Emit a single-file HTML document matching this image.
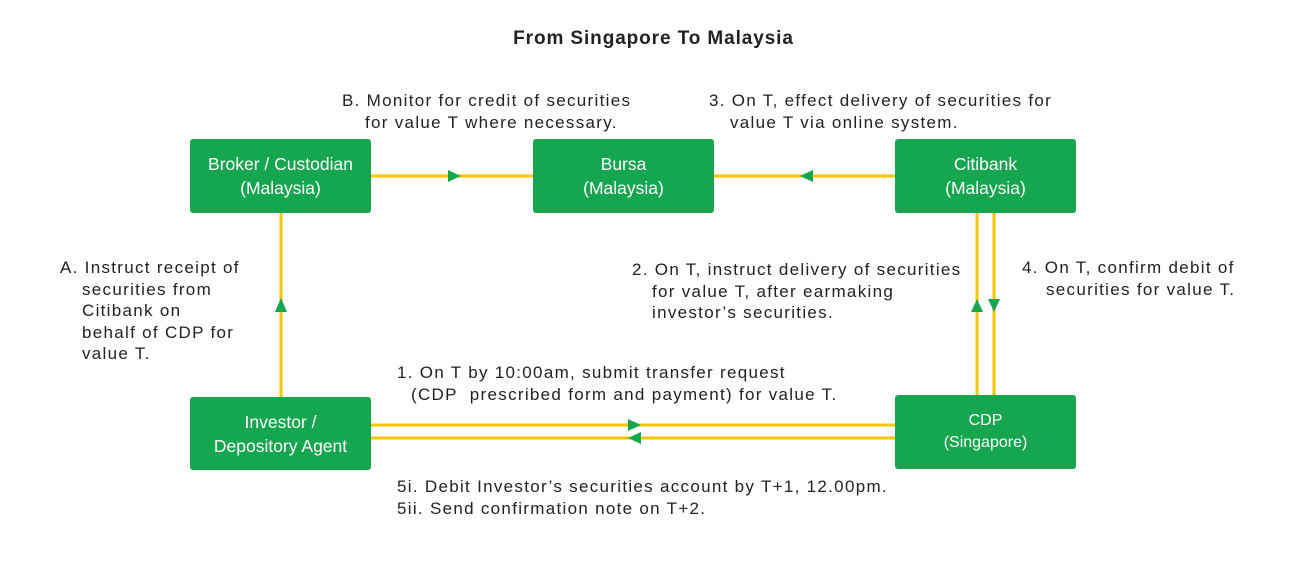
<!DOCTYPE html>
<html><head><style>
body{margin:0;width:1307px;height:573px;background:#fff;position:relative;font-family:"Liberation Sans",sans-serif;overflow:hidden}
.b{position:absolute;background:#16a650;color:#fff;border-radius:3px;width:181px;display:flex;align-items:center;justify-content:center;text-align:center;font-size:17.5px;line-height:24px}
.t{position:absolute;color:#222;font-size:17px;letter-spacing:1.3px;line-height:21.5px;white-space:nowrap}
.t span{display:block}
</style></head><body>
<svg width="1307" height="573" style="position:absolute;left:0;top:0">
<g stroke="#f7c600" stroke-width="3" fill="none">
<line x1="371" y1="176" x2="533" y2="176"/>
<line x1="714" y1="176" x2="895" y2="176"/>
<line x1="281" y1="213" x2="281" y2="397"/>
<line x1="977" y1="213" x2="977" y2="395"/>
<line x1="994" y1="213" x2="994" y2="395"/>
<line x1="371" y1="425" x2="895" y2="425"/>
<line x1="371" y1="438" x2="895" y2="438"/>
</g>
<g fill="#16a650">
<polygon points="448,170 461,176 448,182"/>
<polygon points="813,170 800,176 813,182"/>
<polygon points="275,312 281,298 287,312"/>
<polygon points="971,312 977,299 983,312"/>
<polygon points="988,299 994,312 1000,299"/>
<polygon points="628,419 641,425 628,431"/>
<polygon points="641,432 628,438 641,444"/>
</g>
</svg>
<div class="t" style="left:0;width:1307px;text-align:center;top:28px;font-weight:bold;font-size:19px;letter-spacing:0.9px">From Singapore To Malaysia</div>
<div class="b" style="left:190px;top:139px;height:74px">Broker / Custodian<br>(Malaysia)</div>
<div class="b" style="left:533px;top:139px;height:74px">Bursa<br>(Malaysia)</div>
<div class="b" style="left:895px;top:139px;height:74px">Citibank<br>(Malaysia)</div>
<div class="b" style="left:190px;top:397px;height:73px">Investor /<br>Depository Agent</div>
<div class="b" style="left:895px;top:395px;height:74px;font-size:16px;line-height:22px">CDP<br>(Singapore)</div>
<div class="t" style="left:342px;top:90px"><span>B. Monitor for credit of securities</span><span style="padding-left:23px">for value T where necessary.</span></div>
<div class="t" style="left:709px;top:90px"><span>3. On T, effect delivery of securities for</span><span style="padding-left:21px">value T via online system.</span></div>
<div class="t" style="left:60px;top:257px"><span>A. Instruct receipt of</span><span style="padding-left:22px">securities from</span><span style="padding-left:22px">Citibank on</span><span style="padding-left:22px">behalf of CDP for</span><span style="padding-left:22px">value T.</span></div>
<div class="t" style="left:632px;top:259px"><span>2. On T, instruct delivery of securities</span><span style="padding-left:20px">for value T, after earmaking</span><span style="padding-left:20px">investor’s securities.</span></div>
<div class="t" style="left:1022px;top:257px"><span>4. On T, confirm debit of</span><span style="padding-left:24px">securities for value T.</span></div>
<div class="t" style="left:397px;top:362px"><span>1. On T by 10:00am, submit transfer request</span><span style="padding-left:14px">(CDP&nbsp; prescribed form and payment) for value T.</span></div>
<div class="t" style="left:397px;top:476px"><span>5i. Debit Investor’s securities account by T+1, 12.00pm.</span><span>5ii. Send confirmation note on T+2.</span></div>
</body></html>
